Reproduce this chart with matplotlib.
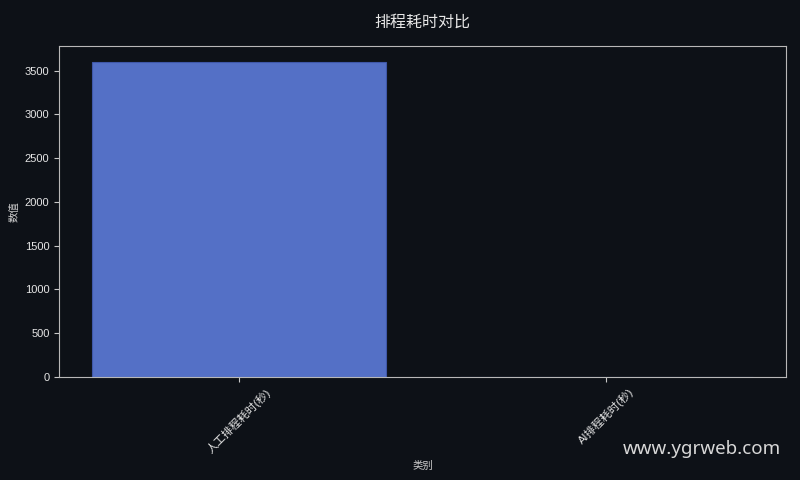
import matplotlib
matplotlib.use("Agg")
import matplotlib.pyplot as plt

plt.rcParams['font.family'] = ['Liberation Sans', 'Noto Sans CJK SC', 'DejaVu Sans']

# 数据
categories = ['人工排程耗时(秒)', 'AI排程耗时(秒)']
values = [3600, 3]

bg = '#0d1117'
fig, ax = plt.subplots(figsize=(8, 4.8), dpi=100)
fig.patch.set_facecolor(bg)
ax.set_facecolor(bg)

ax.bar(categories, values, width=0.8, color='#5470c6', edgecolor='#3f57a8', linewidth=0.8)

ax.set_title('排程耗时对比', color='#e6e6e6', fontsize=11.5, pad=14,
             family=['Noto Sans CJK SC', 'DejaVu Sans'])
ax.set_xlabel('类别', color='#d0d0d0', fontsize=7.5)
ax.set_ylabel('数值', color='#d0d0d0', fontsize=7.5)
ax.tick_params(colors='#c8c8c8', labelsize=8, labelcolor='#e6e6e6')
plt.setp(ax.get_xticklabels(), rotation=45)
for s in ax.spines.values():
    s.set_color('#b8b8b8')

fig.subplots_adjust(left=0.074, right=0.983, top=0.904, bottom=0.215)
fig.text(0.976, 0.045, 'www.ygrweb.com', ha='right', va='bottom', fontsize=13.5,
         color='#d8d8d8', family=['Noto Sans', 'DejaVu Sans'])

fig.savefig('out.png', facecolor=bg)
